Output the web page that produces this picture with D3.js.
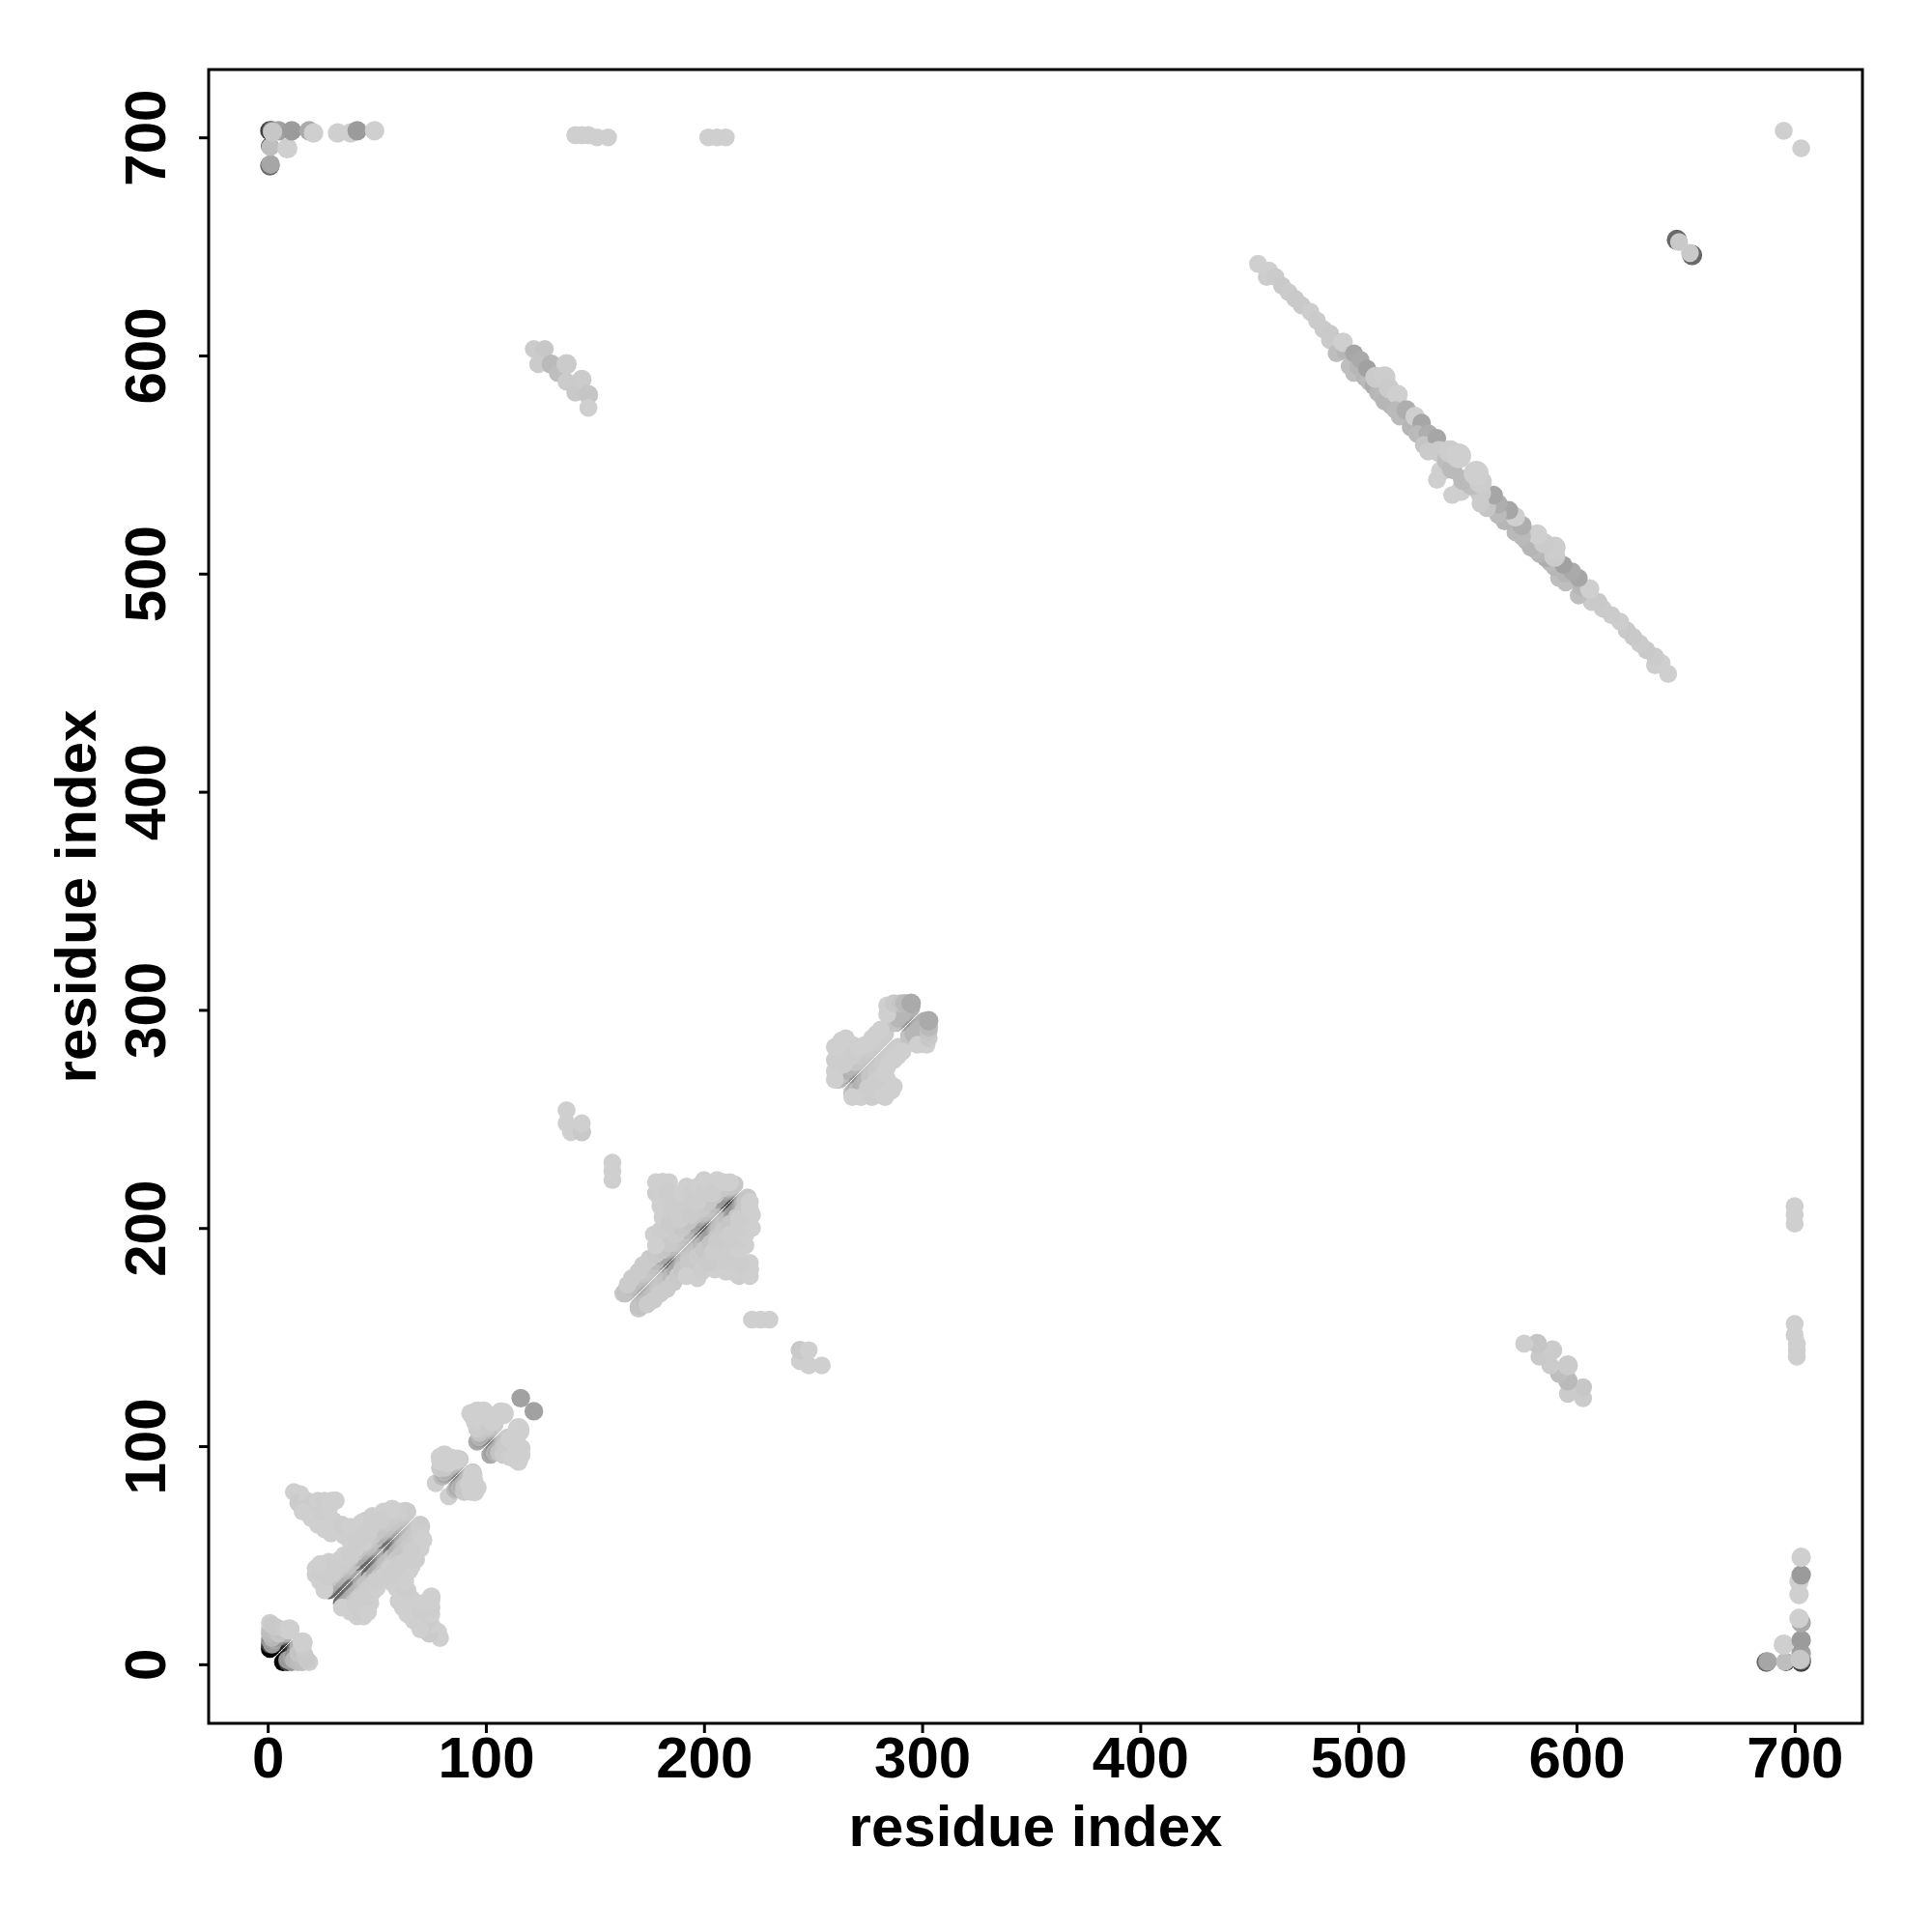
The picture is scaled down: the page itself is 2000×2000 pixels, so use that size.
<!DOCTYPE html>
<html><head><meta charset="utf-8"><script src="https://cdn.jsdelivr.net/npm/d3@7/dist/d3.min.js"></script>
<style>html,body{margin:0;background:#fff}svg{display:block}</style></head><body><svg id="c" width="2000" height="2000"></svg>
<script>
const xTicks=[0,100,200,300,400,500,600,700];
const yTicks=[0,100,200,300,400,500,600,700];
const axisTitle="residue index";
// [i, j, score, weight]: contact pairs read from the upper triangle; the map is symmetric.
const nTerm=[[1,7,1],[2,8,1],[3,9,.9],[4,10,.85],[5,11,.85],[1,9,.7],[2,10,.55],[6,12,.7],[1,11,.3],[7,13,.45],[2,9,.25],[3,11,.2],[4,12,.3],[5,13,.25],[2,12,.12],[8,14,.15],[1,14,.1],[1,16,.08],[3,15,.08],[5,14,.05],[6,16,.08],[1,19,0],[2,18,.03],[4,17,.03],[8,16,.02],[10,16,0,.3]];
const helixA=[[28,34,.5],[29,35,.5],[30,36,.5],[31,37,.5],[32,38,.5],[33,39,.45],[34,40,.45],[35,41,.45],[36,42,.4],[37,43,.2],[38,44,.2],[39,45,.2],[40,46,.2],[41,47,.45],[42,48,.5],[43,49,.5],[44,50,.5],[45,51,.45],[46,52,.4],[47,53,.3],[48,54,.2],[49,55,.2],[50,56,.2],[51,57,.4],[52,58,.45],[53,59,.45],[54,60,.4],[55,61,.3],[56,62,.2],[57,63,.2],[58,64,.15],[59,65,.12],[60,66,.1],[61,67,.08],[62,68,.06],[63,69,.05],[64,70,.03],
[27,35,.22],[28,36,.2],[29,37,.2],[30,38,.18],[31,39,.16],[32,40,.15],[33,41,.14],[34,42,.13],[35,43,.12],[36,44,.1],[37,45,.07],[39,47,.07],[41,49,.16],[42,50,.18],[43,51,.18],[44,52,.16],[45,53,.14],[46,54,.1],[47,55,.08],[49,57,.07],[51,59,.14],[52,60,.14],[53,61,.12],[54,62,.1],[55,63,.07],[57,65,.05],[59,67,.04],[61,69,.03],[63,70,.02,.2],
[26,38,.08],[28,39,.06],[30,41,.05],[32,43,.04],[34,45,.04],[36,47,.04],[38,49,.03],[40,51,.05],[42,53,.06],[44,55,.05],[46,57,.04],[48,59,.03],[50,61,.05],[52,63,.05],[54,65,.03],[57,68,.02],[60,70,.01],
[20,70,.3],[22,69,.26],[24,67,.3],[26,65,.26],[19,72,.16],[23,71,.16],
[12,79,0],[15,78,0],[14,74,.02],[18,75,0],[17,71,.03],[20,73,.02],[23,75,0],[26,75,.01],[29,75,0],[31,75,0,.1],[16,70,0],[20,67,0],[23,64,0],[26,62,0],[25,70,.01],[28,71,0],[30,66,0],[29,60,0],[32,62,0],[35,59,0],[34,64,.01],[37,61,.01],[38,56,0],[40,53,0],[44,56,0],[40,60,.01],[43,62,0],[46,60,.01],[38,63,0],[43,65,0],[45,66,0],[48,64,.01],[50,67,0],[48,68,.01],[53,70,0],[57,71,0,.2],[52,66,.01],
[22,41,0],[22,44,0],[24,38,0],[24,42,.01],[24,46,0],[26,34,0],[27,40,.01],[28,44,0],[28,47,0],[30,42,.01],[31,46,.01],[33,48,0],[34,46,.01],[35,50,0],[38,50,.01],[41,56,.01],[44,59,.01]];
const helixB=[[77,83,0],[80,86,.1],[81,87,.18],[82,88,.35],[83,89,.4],[84,90,.38],[85,91,.28],[86,92,.18],[87,93,.1],[88,94,.04],[81,88,.12],[82,89,.16],[83,90,.14],[84,91,.12],[85,92,.1],[86,93,.06],[79,90,.03],[81,90,.04],[82,92,.02],[79,93,0],[79,95,0,.1],[81,96,0,.15],[83,93,0,.4],[84,94,0,.4],[85,94,0,.2],[87,94,0,.2]];
const helixC=[[96,102,.18],[97,103,.22],[98,104,.4],[99,105,.42],[100,106,.38],[101,107,.22],[102,108,.08],[103,109,.04],[104,110,.02],[97,104,.14],[98,105,.16],[99,106,.16],[100,107,.14],[101,108,.08],[97,106,.06],[99,108,.04],[101,109,.03],[96,108,.02],[95,111,.01],[94,114,0,.2],[93,115,0,.1],[96,116,0,.2],[99,116,0,.2],[101,114,0,.1],[97,112,0],[100,112,.02],[103,111,0,.1],[102,113,0,.2],[95,114,0,.6],[104,113,0,.3],[107,115,0,.5],[108,115,0,.4],[116,122,.22,.1]];
const linker=[[158,222,0],[158,226,0],[158,230,0],[137,254,0],[137,248,0],[139,244,0],[144,244,.03,.1],[144,248,0]];
const domainCore=[[163,170,.02],[164,170,.06],[165,171,.08],[166,172,.1],[167,173,.14],[168,174,.18],[169,175,.2],[170,176,.18],[171,177,.14],[172,178,.1],[173,179,.08],[174,180,.07],[175,181,.07],[176,182,.08],[177,183,.1],[178,184,.15],[179,185,.28],[180,186,.42],[181,187,.48],[182,188,.5],[183,189,.42],[184,190,.25],[185,191,.12],[186,192,.1],[187,193,.08],[188,194,.1],[189,195,.1],[190,196,.1],[191,197,.12],[192,198,.15],[193,199,.22],[194,200,.32],[195,201,.45],[196,202,.55],[197,203,.6],[198,204,.55],[199,205,.45],[200,206,.25],[201,207,.14],[202,208,.1],[203,209,.1],[204,210,.12],[205,211,.18],[206,212,.35],[207,213,.6],[208,214,.7],[209,215,.7],[210,216,.6],[211,217,.35],[212,218,.18],[213,219,.1],[214,220,.04],
[164,171,.06],[166,173,.08],[168,175,.1],[170,177,.08],[172,179,.05],[174,181,.04],[176,183,.06],[178,185,.1],[180,187,.16],[181,188,.2],[182,189,.2],[183,190,.16],[184,191,.1],[186,193,.05],[188,195,.05],[190,197,.06],[192,199,.1],[194,201,.14],[195,202,.2],[196,203,.22],[197,204,.24],[198,205,.2],[199,206,.14],[200,207,.08],[202,209,.06],[204,211,.08],[206,213,.2],[207,214,.26],[208,215,.28],[209,216,.26],[210,217,.2],[211,218,.12],[212,219,.05],
[165,174,.02],[167,177,.02],[170,180,.02],[172,183,.02],[175,186,.02],[178,188,.03],[181,190,.05],[184,193,.03],[187,197,.02],[190,200,.04],[193,203,.06],[196,206,.05],[199,209,.03],[202,212,.04],[205,215,.05],[208,218,.04],
[178,192,0],[177,197,0],[180,199,.01],[181,205,0],[180,210,0],[178,216,.01],[178,221,0],[181,221,0,.1],[184,221,0],[180,213,0],[183,217,.01],[185,209,.01],[186,214,.01],[184,202,.02],[189,204,.01],[188,210,.01],[190,216,0],[192,219,0],[193,210,.01],[195,216,.01],[197,219,0],[194,206,.02],[197,212,.01],[200,222,0],[200,216,.01],[203,220,0],[206,222,0],[204,216,.01],[209,221,0],[212,221,0]];
const domainEdge=[[261,268,.03],[262,268,.08],[263,269,.12],[264,270,.22],[265,271,.28],[266,272,.32],[267,273,.28],[268,274,.18],[269,275,.12],[270,276,.08],[271,277,.06],[272,278,.06],[273,279,.05],[274,280,.05],[275,281,.04],[276,282,.04],[277,283,.03],[278,284,.03],[279,285,.03],[280,286,.02],[281,287,.02],[282,288,.02],[283,289,.02],[288,294,.1],[289,295,.22],[290,296,.28],[291,297,.3],[292,298,.28],[293,299,.22],[294,300,.18],[295,301,.15],
[263,270,.08],[265,272,.14],[266,273,.14],[267,274,.12],[269,276,.05],[272,279,.03],[275,282,.02],[278,285,.01],[281,288,.01],[287,294,.06],[289,296,.12],[291,298,.12],
[260,268,0],[260,272,0],[260,277,.01],[260,283,0],[263,286,0],[265,287,0],[264,280,0],[264,275,.01],[268,284,0],[268,279,.01],[271,283,0],[274,284,0],[277,287,0],[279,289,0],[281,291,0],[284,298,0],[284,302,0],[287,303,.03],[290,303,.05],[292,303,.1,.1],[295,303,.18,.2]];
const strandPair=[[454,642,0],[458,636,.01],[459,639,0],[462,636,.02],[465,632,.03],[468,629,.02],[471,626,.03],[474,623,.03],[478,620,.01],[481,616,.02],[484,612,.02],[487,607,.02],[487,610,.03],[490,601,.08],[494,602,.12],[493,606,0,.2],[496,595,.08],[498,592,.08],[500,595,.12],[503,590,.12],[505,588,.1],[498,601,.2],[501,598,.18],[504,594,.22],[507,586,.16],[509,583,.12],[511,581,.1],[512,579,.12],[515,577,.12],[508,590,.02,.4],[512,590,.01,.5],[514,585,.02,.3],[518,582,0,.3],[517,575,.1],[519,572,.1],[522,575,.16,.2],[524,567,.12],[526,572,0,.2],[529,569,.2,.1],[527,564,.1],[532,564,.16,.2],[530,559,.05],[536,562,.2,.1],[532,556,.02],[536,543,0],[538,547,0,.3],[537,556,.02,.4],[541,552,.08,.5],[543,548,.1,.3],[542,556,.01,.6],[546,554,0,.9]];
const strandFar=[[122,603,.02],[127,603,.04],[124,596,.02],[130,596,.1,.2],[133,592,.08],[137,596,.02,.3],[137,588,.02],[141,583,.03],[144,589,.02,.2],[147,582,.05,.2],[147,576,0],
[646,653,.5,.3],[647,652,.03]];
const termLinks=[[1,703,.7,.2],[2,703,.4,.2],[1,696,.65],[1,687,.5,.2],[1.3,687.6,.2,.1],[1.2,695.6,.08],[9,695,0,.3],[5,703,.22,.2],[11,703,.25,.2],[19,703,.18,.2],[21,702,0,.2],[2.2,702.5,.04,.2],[32,702,0,.2],[38,702,0,.2],[41,703,.25,.2],[49,703,0,.2],[141,701,0],[144,701,0],[147,701,0],[151,700,0],[156,700,0],[202,700,0],[206,700,0],[210,700,0],[695,703,0]];
const clusters=[nTerm,helixA,helixB,helixC,linker,domainCore,domainEdge,strandPair,strandFar,termLinks];

const left=216,right=1928,top_=72,bottom=1784;
const x=d3.scaleLinear().domain([-27.08,731.08]).range([left,right]);
const y=d3.scaleLinear().domain([-27.08,731.08]).range([bottom,top_]);
const shade=d3.scaleLinear().domain([0,1]).range(["#cfcfcf","#000000"]);
const radius=d3.scaleLinear().domain([0,1]).range([9.3,13.3]);
const svg=d3.select("#c");
const FONT="'Liberation Sans',Arial,sans-serif";
const plot=svg.append("g");
clusters.forEach(c=>{
  const both=[];
  c.forEach(d=>{both.push({a:d[0],b:d[1],v:d[2],w:d[3]||0});});
  c.forEach(d=>{both.push({a:d[1],b:d[0],v:d[2],w:d[3]||0});});
  plot.append("g").selectAll("circle").data(both).join("circle")
    .attr("cx",d=>x(d.a)).attr("cy",d=>y(d.b)).attr("r",d=>radius(d.w)).attr("fill",d=>shade(d.v));
});
svg.append("rect").attr("x",left).attr("y",top_).attr("width",right-left).attr("height",bottom-top_)
  .attr("fill","none").attr("stroke","#000").attr("stroke-width",3);
const gx=svg.append("g").attr("transform",`translate(0,${bottom})`)
  .call(d3.axisBottom(x).tickValues(xTicks).tickSize(10).tickFormat(d3.format("d")));
const gy=svg.append("g").attr("transform",`translate(${left},0)`)
  .call(d3.axisLeft(y).tickValues(yTicks).tickSize(10).tickFormat(d3.format("d")));
[gx,gy].forEach(g=>{g.select(".domain").remove();g.selectAll("line").attr("stroke","#000").attr("stroke-width",3);
  g.selectAll("text").attr("fill","#000").style("font",`bold 60px ${FONT}`);});
gx.selectAll("text").attr("y",56).attr("dy",0);
gy.selectAll("text").attr("x",0).attr("y",-45).attr("dy",0).attr("transform","rotate(-90)").attr("text-anchor","middle");
svg.append("text").attr("x",(left+right)/2).attr("y",1911).attr("text-anchor","middle")
  .style("font",`bold 60px ${FONT}`).text(axisTitle);
svg.append("text").attr("transform",`translate(99,${(top_+bottom)/2}) rotate(-90)`).attr("text-anchor","middle")
  .style("font",`bold 60px ${FONT}`).text(axisTitle);
</script></body></html>
